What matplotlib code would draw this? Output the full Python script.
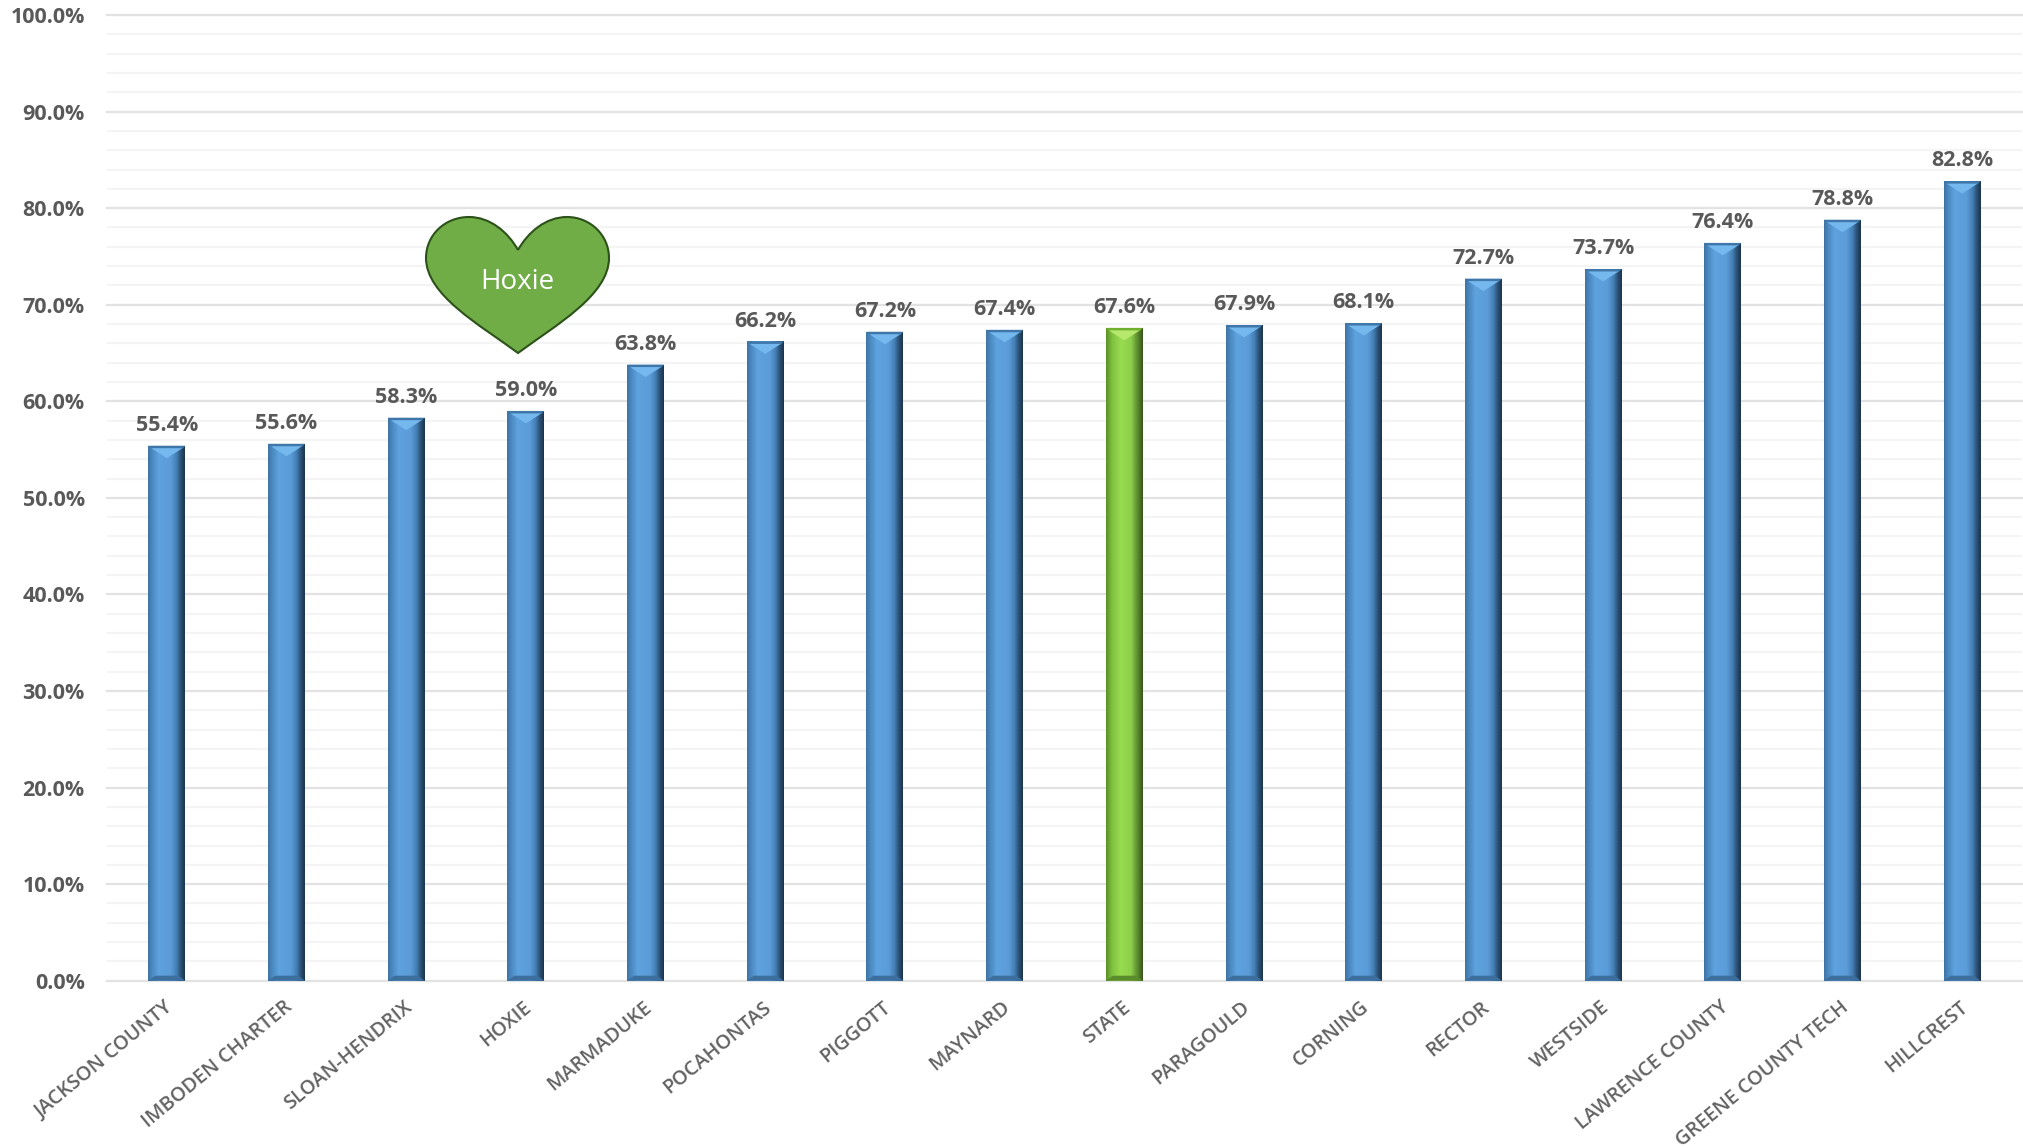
import numpy as np
import matplotlib
matplotlib.use('Agg')
import matplotlib.pyplot as plt
from matplotlib.colors import LinearSegmentedColormap
from matplotlib.patches import PathPatch, Polygon
from matplotlib.path import Path
from matplotlib.transforms import Affine2D

W, H = 2023, 1148

districts = ['JACKSON COUNTY', 'IMBODEN CHARTER', 'SLOAN-HENDRIX', 'HOXIE', 'MARMADUKE',
             'POCAHONTAS', 'PIGGOTT', 'MAYNARD', 'STATE', 'PARAGOULD', 'CORNING', 'RECTOR',
             'WESTSIDE', 'LAWRENCE COUNTY', 'GREENE COUNTY TECH', 'HILLCREST']
values = [55.4, 55.6, 58.3, 59.0, 63.8, 66.2, 67.2, 67.4, 67.6, 67.9, 68.1, 72.7,
          73.7, 76.4, 78.8, 82.8]
highlight = 'STATE'
major_ticks = [0, 10, 20, 30, 40, 50, 60, 70, 80, 90, 100]
minor_ticks = [t for t in range(0, 101, 2) if t % 10 != 0]

plt.rcParams['font.family'] = ['Open Sans', 'DejaVu Sans']

fig = plt.figure(figsize=(W / 100, H / 100), dpi=100)
ax = fig.add_axes([107 / W, 1 - 980.7 / H, (2022 - 107) / W, 965.7 / H])

blue = LinearSegmentedColormap.from_list('blue', [(0, '#3f74a3'), (.1, '#4a87bf'), (.28, '#5ea2de'),
                                                  (.62, '#5b9bd8'), (.78, '#447fb5'), (.9, '#2a4f73'),
                                                  (1, '#1c3650')])
green = LinearSegmentedColormap.from_list('green', [(0, '#5c8f2a'), (.15, '#7fbf3f'), (.4, '#98dc50'),
                                                    (.68, '#8ccf4a'), (.85, '#5f9030'), (1, '#38561b')])
grad = np.linspace(0, 1, 64).reshape(1, -1)

xpos = np.arange(len(districts))
bar_w = 37 / 119.7
py = 100 / 965.7  # one pixel in data units, y
px = 1 / 119.7    # one pixel in data units, x

for t in minor_ticks:
    ax.axhline(t, color='#f4f4f4', lw=1.5, zorder=1)
for t in major_ticks:
    ax.axhline(t, color='#e2e2e2', lw=1.6, zorder=1, clip_on=False)

bars = ax.bar(xpos, values, width=bar_w, color='none', zorder=2)
for x, v, name, b in zip(xpos, values, districts, bars):
    is_state = name == highlight
    x0 = x - bar_w / 2
    x1 = x + bar_w / 2
    im = ax.imshow(grad, extent=[x0, x1, 0, v], aspect='auto', cmap=green if is_state else blue, zorder=3)
    im.set_clip_path(b)
    # bevel at top and bottom of the bar
    top_c = '#6fb02f' if is_state else '#3f77aa'
    tip_c = '#b5e86c' if is_state else '#74b8ee'
    bot_c = '#5a8c2c' if is_state else '#3d6f9e'
    ax.add_patch(Polygon([(x0, v), (x1, v), (x1 - 3 * px, v - 3 * py), (x0 + 3 * px, v - 3 * py)],
                         fc=top_c, ec='none', zorder=4))
    ax.add_patch(Polygon([(x0 + 3 * px, v - 2.5 * py), (x1 - 3 * px, v - 2.5 * py), (x, v - 12.5 * py)],
                         fc=tip_c, ec='none', zorder=4))
    ax.add_patch(Polygon([(x0, 0), (x1, 0), (x1 - 7 * px, 5 * py), (x0 + 7 * px, 5 * py)],
                         fc=bot_c, ec='none', zorder=4))
    ax.annotate(f'{v:.1f}%', (x, v), xytext=(0, 14.5), textcoords='offset points', ha='center', va='center',
                fontsize=15.5, fontweight='bold', color='#595959', zorder=5)

ax.set_xlim(-0.5, 15.5)
ax.set_ylim(0, 100)
for s in ax.spines.values():
    s.set_visible(False)
ax.set_yticks(major_ticks)
ax.set_yticklabels([f'{t:.1f}%' for t in major_ticks], fontsize=15.5, fontweight='bold', color='#595959')
ax.set_xticks(xpos)
ax.set_xticklabels(districts, rotation=39.5, ha='right', va='top', rotation_mode='anchor',
                   fontsize=14.3, fontweight='semibold', color='#636363')
ax.tick_params(axis='both', length=0)
ax.tick_params(axis='y', pad=16)
ax.tick_params(axis='x', pad=12)

# labels sit a little left of the bar centres
shift = Affine2D().translate(-3, 0)
for lab in ax.get_xticklabels():
    lab.set_transform(lab.get_transform() + shift)

# heart callout, drawn in picture pixels
to_px = Affine2D().scale(1, -1).translate(0, H)
verts = [(518, 250), (508, 232), (490, 217), (469, 217), (445, 217), (426, 235), (426, 258),
         (426, 295), (480, 325), (518, 353), (556, 325), (609, 295), (609, 258),
         (609, 235), (590, 217), (567, 217), (546, 217), (528, 232), (518, 250)]
codes = [Path.MOVETO] + [Path.CURVE4] * 18
fig.add_artist(PathPatch(Path(verts, codes), fc='#70ad47', ec='#2c521a', lw=1.5, transform=to_px, zorder=6))
fig.text(517 / W, 1 - 282 / H, 'Hoxie', color='white', fontsize=20, ha='center', va='center', zorder=7)

fig.savefig('out.png', dpi=100, facecolor='white')
